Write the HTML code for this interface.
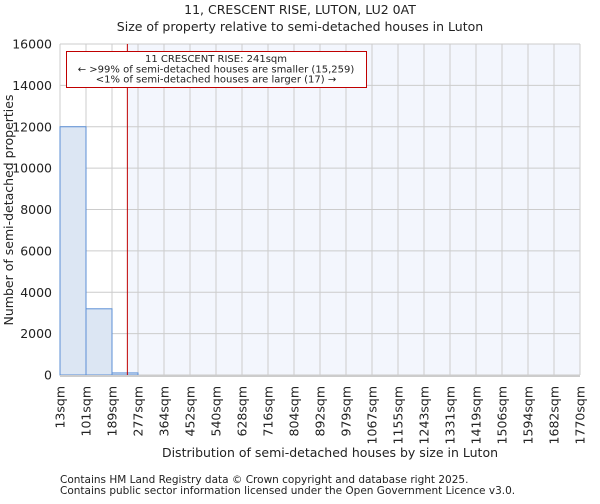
<!DOCTYPE html>
<html><head><meta charset="utf-8"><style>
body{margin:0;background:#fff;font-family:"DejaVu Sans","Liberation Sans",sans-serif;}
svg text{font-family:"DejaVu Sans","Liberation Sans",sans-serif;fill:#222;}
</style></head><body>
<svg id="c" width="600" height="500" xmlns="http://www.w3.org/2000/svg">
<text x="300" y="14" text-anchor="middle" font-size="12.5">11, CRESCENT RISE, LUTON, LU2 0AT</text>
<text x="300" y="31" text-anchor="middle" font-size="12.5">Size of property relative to semi-detached houses in Luton</text>
<g id="plot"></g>
<text x="330" y="457" text-anchor="middle" font-size="12.5">Distribution of semi-detached houses by size in Luton</text>
<text transform="translate(13,210) rotate(-90)" text-anchor="middle" font-size="12.5">Number of semi-detached properties</text>
<text x="60" y="483" font-size="10.5">Contains HM Land Registry data © Crown copyright and database right 2025.</text>
<text x="60" y="494" font-size="10.5">Contains public sector information licensed under the Open Government Licence v3.0.</text>
</svg>
<script>
const binLabels=["13sqm","101sqm","189sqm","277sqm","364sqm","452sqm","540sqm","628sqm","716sqm","804sqm","892sqm","979sqm","1067sqm","1155sqm","1243sqm","1331sqm","1419sqm","1506sqm","1594sqm","1682sqm","1770sqm"];
const binEdges=[13,101,189,277,364,452,540,628,716,804,892,979,1067,1155,1243,1331,1419,1506,1594,1682,1770];
const counts=[12000,3200,100,0,0,0,0,0,0,0,0,0,0,0,0,0,0,0,0,0];
const yTicks=[0,2000,4000,6000,8000,10000,12000,14000,16000];
const propertySize=241;
const X0=60,X1=580,Y0=375,Y1=44,YMAX=16000;
const NS="http://www.w3.org/2000/svg";
const g=document.getElementById('plot');
const bw=(X1-X0)/(binEdges.length-1);
function xi(i){return X0+i*bw;}
function xv(v){for(let i=0;i<binEdges.length-1;i++){if(v<=binEdges[i+1])return xi(i)+(v-binEdges[i])/(binEdges[i+1]-binEdges[i])*bw;}return X1;}
function y(v){return Y0-v/YMAX*(Y0-Y1);}
function mk(t,a){const e=document.createElementNS(NS,t);for(const k in a)e.setAttribute(k,a[k]);g.appendChild(e);return e;}
const px=xv(propertySize);
let bg=mk('rect',{x:px,y:Y1,width:X1-px,height:Y0-Y1,fill:'#f3f6fd'});


yTicks.forEach(t=>{
 let l=mk('line',{x1:X0,x2:X1,y1:y(t),y2:y(t),stroke:'#cccccc','stroke-width':1});
 
 
 let tx=mk('text',{x:52,y:y(t)+4.5,'text-anchor':'end','font-size':'12.5'});tx.textContent=t;
 
 
});
binLabels.forEach((lb,i)=>{
 let l=mk('line',{x1:xi(i),x2:xi(i),y1:Y1,y2:Y0,stroke:'#cccccc','stroke-width':1});
 
 
 let tx=mk('text',{transform:`translate(${xi(i)+4.5},386) rotate(-90)`,'text-anchor':'end','font-size':'12.5'});tx.textContent=lb;
 
 
});
counts.forEach((c,i)=>{
 if(c<=0)return;
 let r=mk('rect',{x:xi(i),y:y(c),width:bw,height:Y0-y(c),fill:'#dce6f3',stroke:'#5b8fd6','stroke-width':1});
 
 
});
let ax=mk('line',{x1:X0,x2:X1,y1:Y0+1,y2:Y0+1,stroke:'#cccccc','stroke-width':2});


let pl=mk('line',{x1:px,x2:px,y1:Y1,y2:Y0,stroke:'#c00000','stroke-width':1});


let box=mk('rect',{x:66.5,y:51.5,width:300,height:36,fill:'#fff',stroke:'#c00000','stroke-width':1});


["11 CRESCENT RISE: 241sqm","← >99% of semi-detached houses are smaller (15,259)","<1% of semi-detached houses are larger (17) →"].forEach((s,i)=>{
 let t=mk('text',{x:216,y:62+i*10.3,'text-anchor':'middle','font-size':'10'});t.textContent=s;
 
 
});
</script>
</body></html>
